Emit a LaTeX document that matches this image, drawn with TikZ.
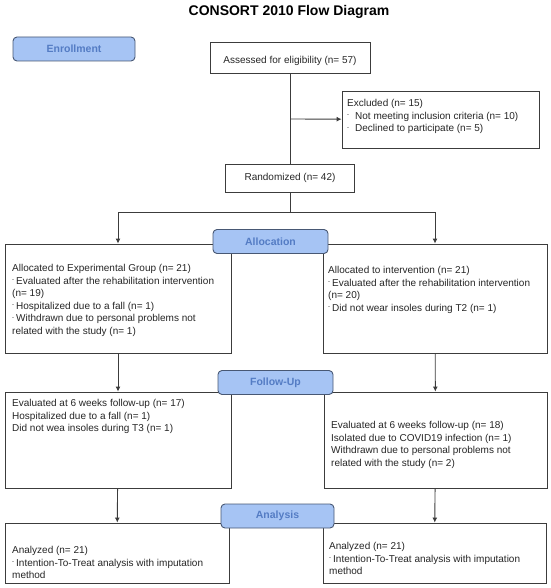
\documentclass[tikz,border=0pt]{standalone}
\usepackage{fontspec}
\setmainfont{Liberation Sans}
\usetikzlibrary{arrows.meta}
\definecolor{fasefill}{RGB}{166,196,244}
\definecolor{fasetesto}{RGB}{84,124,196}
\definecolor{fasebordo}{RGB}{72,88,116}
\definecolor{linea}{RGB}{60,60,60}
\tikzset{
	scatola/.style={draw=linea,line width=0.9pt,fill=white,inner sep=0pt},
	fase/.style={draw=fasebordo,line width=0.9pt,fill=fasefill,rounded corners=4pt,minimum height=24pt,
		font=\fontsize{10.5}{12}\selectfont\bfseries,text=fasetesto},
	testo/.style={anchor=north west,align=left,inner sep=0pt,font=\fontsize{10}{12.5}\selectfont,text=black!85},
	freccia/.style={draw=linea,line width=0.9pt,-{Latex[length=5pt,width=5pt]}},
	filo/.style={draw=linea,line width=0.9pt}
}
\newcommand{\scat}[5]{\node[scatola,minimum width=#4pt,minimum height=#5pt] (#1) at (#2,#3) {};}
\newcommand{\fase}[5]{\node[fase,minimum width=#4pt] (#1) at (#2,#3) {#5};}
\newcommand{\tr}{{\fontsize{6}{6}\selectfont\raisebox{2.5pt}{-}}\hspace{2pt}}

\begin{document}
\begin{tikzpicture}[x=1pt,y=-1pt]
				\useasboundingbox (0,0) rectangle (550,588);
				\node[font=\fontsize{14}{16}\selectfont\bfseries] (titolo) at (289,12) {CONSORT 2010 Flow Diagram};
				\scat{valutati}{290}{57.5}{160}{31}
				\scat{esclusi}{440.5}{119.5}{197}{57}
				\scat{random}{290}{178}{129}{28}
				\scat{allocA}{118}{298.5}{226}{109}
				\scat{allocB}{435}{298.5}{224}{109}
				\scat{followA}{118}{440}{226}{96}
				\scat{followB}{435.5}{440}{223}{96}
				\scat{analisiA}{117}{553}{224}{60}
				\scat{analisiB}{434.5}{553}{223}{60}
				\fase{enroll}{74}{49}{122}{Enrollment}
				\fase{alloc}{270.5}{241.5}{115}{Allocation}
				\fase{follow}{275.5}{382.5}{115}{Follow-Up}
				\fase{analisi}{277.5}{516}{113}{Analysis}
				\node[font=\fontsize{10}{12}\selectfont,text=black!85] at ([yshift=-3pt]valutati.center) {Assessed for eligibility (n= 57)};
				\node[font=\fontsize{10}{12}\selectfont,text=black!85] at (random.center) {Randomized (n= 42)};
				\node[testo] at (347,99.5) {Excluded (n= 15)\\\tr\hspace{4pt}Not meeting inclusion criteria (n= 10)\\\tr\hspace{4pt}Declined to participate (n= 5)};
				\node[testo] at (12,264.5) {Allocated to Experimental Group (n= 21)\\\tr Evaluated after the rehabilitation intervention\\(n= 19)\\\tr Hospitalized due to a fall (n= 1)\\\tr Withdrawn due to personal problems not\\related with the study (n= 1)};
				\node[testo] at (328,266.5) {Allocated to intervention (n= 21)\\\tr Evaluated after the rehabilitation intervention\\(n= 20)\\\tr Did not wear insoles during T2 (n= 1)};
				\node[testo] at (12,399.5) {Evaluated at 6 weeks follow-up (n= 17)\\Hospitalized due to a fall (n= 1)\\Did not wea insoles during T3 (n= 1)};
				\node[testo] at (331,421.5) {Evaluated at 6 weeks follow-up (n= 18)\\Isolated due to COVID19 infection (n= 1)\\Withdrawn due to personal problems not\\related with the study (n= 2)};
				\node[testo] at (12,546.5) {Analyzed (n= 21)\\\tr Intention-To-Treat analysis with imputation\\method};
				\node[testo] at (329,542.5) {Analyzed (n= 21)\\\tr Intention-To-Treat analysis with imputation\\method};
				\coordinate (ramo) at (290,119);
				\coordinate (bivio) at (290,212);
				\draw[filo] (valutati) -- (random);
				\draw[freccia] (ramo) -- (esclusi);
				\draw[filo] (random) -- (bivio);
				\draw[freccia] (bivio) -| (allocA);
				\draw[freccia] (bivio) -| (allocB);
				\draw[freccia] (allocA) -- (followA);
				\draw[freccia] (allocB) -- (followB);
				\draw[freccia] (followA) -- (analisiA);
				\draw[freccia] (followB) -- (analisiB);
			\end{tikzpicture}
\end{document}
